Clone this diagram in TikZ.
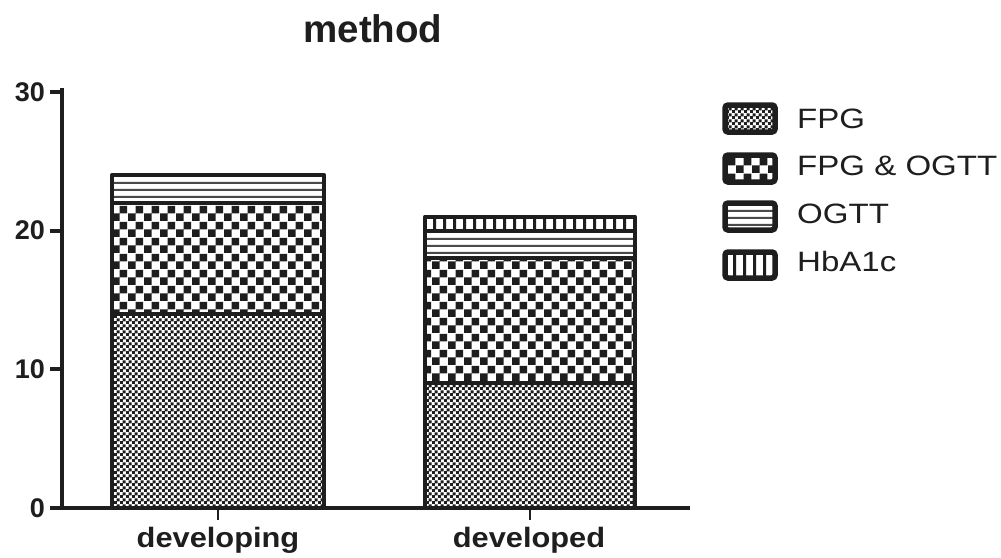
\documentclass[tikz,border=0pt]{standalone}
\usepackage{fontspec}
\setmainfont{Liberation Sans}
\usetikzlibrary{patterns}

% fine checkerboard (about 3pt cells, dark slightly dominant)
\pgfdeclarepatternformonly{finecheck}{\pgfpointorigin}{\pgfqpoint{6pt}{6pt}}{\pgfqpoint{6pt}{6pt}}{%
  \pgfpathrectangle{\pgfpointorigin}{\pgfqpoint{3.4pt}{3.4pt}}%
  \pgfpathrectangle{\pgfqpoint{3pt}{3pt}}{\pgfqpoint{3.4pt}{3.4pt}}%
  \pgfusepath{fill}}
% coarse checkerboard (8pt cells)
\pgfdeclarepatternformonly{coarsecheck}{\pgfpointorigin}{\pgfqpoint{16pt}{16pt}}{\pgfqpoint{16pt}{16pt}}{%
  \pgfpathrectangle{\pgfpointorigin}{\pgfqpoint{8pt}{8pt}}%
  \pgfpathrectangle{\pgfqpoint{8pt}{8pt}}{\pgfqpoint{8pt}{8pt}}%
  \pgfusepath{fill}}
% horizontal hatching, line kept inside the tile
\pgfdeclarepatternformonly{hhatch}{\pgfpointorigin}{\pgfqpoint{20pt}{7pt}}{\pgfqpoint{20pt}{7pt}}{%
  \pgfpathrectangle{\pgfqpoint{-1pt}{2.4pt}}{\pgfqpoint{22pt}{2.2pt}}%
  \pgfusepath{fill}}
% vertical hatching, line kept inside the tile
\pgfdeclarepatternformonly{vhatch}{\pgfpointorigin}{\pgfqpoint{10pt}{20pt}}{\pgfqpoint{10pt}{20pt}}{%
  \pgfpathrectangle{\pgfqpoint{3.5pt}{-1pt}}{\pgfqpoint{3.2pt}{22pt}}%
  \pgfusepath{fill}}

\definecolor{ink}{HTML}{1E1E1E}
\definecolor{hatchgray}{HTML}{4A4A4A}

\tikzset{
  axisline/.style={line width=4pt, draw=ink},
  seg/.style={line width=4pt, draw=ink},
  barframe/.style={line width=4.5pt, draw=ink, line join=round},
  fpg/.style={pattern=finecheck, pattern color=ink},
  fpgogtt/.style={pattern=coarsecheck, pattern color=ink},
  ogtt/.style={pattern=hhatch, pattern color=hatchgray},
  hba/.style={pattern=vhatch, pattern color=ink},
  keybox/.style={line width=5.5pt, draw=ink, rounded corners=3pt},
  ticklabel/.style={font=\bfseries\fontsize{27}{30}\selectfont, text=ink, anchor=east, inner sep=0pt},
  catlabel/.style={font=\bfseries\fontsize{28}{30}\selectfont, text=ink, anchor=base, inner sep=0pt},
  keylabel/.style={font=\fontsize{28}{30}\selectfont, text=ink, anchor=base west, inner sep=0pt},
}

\begin{document}
\begin{tikzpicture}[x=1pt, y=-1pt]
\useasboundingbox[fill=white] (0,0) rectangle (1001,557);

% title
\node[font=\bfseries\fontsize{38.5}{42}\selectfont, text=ink, anchor=base, inner sep=0pt] (title) at (373,42) {method};

% bar "developing": FPG 14, FPG & OGTT 8, OGTT 2
\fill[fpg]     (112,508)   rectangle (324,313.9);
\fill[fpgogtt] (112,313.9) rectangle (324,202.9);
\fill[ogtt]    (112,202.9) rectangle (324,175.2);
\draw[seg] (112,313.9) -- (324,313.9);
\draw[seg] (112,202.9) -- (324,202.9);
\draw[barframe] (112,508) rectangle (324,175.2);

% bar "developed": FPG 9, FPG & OGTT 9, OGTT 2, HbA1c 1
\fill[fpg]     (425,508)   rectangle (635,383.2);
\fill[fpgogtt] (425,383.2) rectangle (635,258.4);
\fill[ogtt]    (425,258.4) rectangle (635,230.7);
\fill[hba]     (425,230.7) rectangle (635,216.8);
\draw[seg] (425,383.2) -- (635,383.2);
\draw[seg] (425,258.4) -- (635,258.4);
\draw[seg] (425,230.7) -- (635,230.7);
\draw[barframe] (425,508) rectangle (635,216.8);

% axes
\coordinate (origin) at (62,508);
\coordinate (ytop) at (62,90);
\coordinate (xend) at (688,508);
\draw[axisline, line cap=rect] (ytop) -- (origin) -- (xend);

% y ticks and labels
\foreach \v/\yy in {0/508, 10/369.3, 20/230.7, 30/92} {
  \draw[axisline] (50,\yy) -- (62,\yy);
  \node[ticklabel] (ylab\v) at (45,\yy) {\v};
}

% category ticks and labels
\draw[line width=2.5pt, draw=ink] (218,508) -- (218,520);
\draw[line width=2.5pt, draw=ink] (530,508) -- (530,520);
\node[catlabel] (cat1) at (218,547) {\scalebox{1.1}[1]{developing}};
\node[catlabel] (cat2) at (529,547) {\scalebox{1.1}[1]{developed}};

% legend
\filldraw[keybox, fpg]     (725,105) rectangle (775,132);
\filldraw[keybox, fpgogtt] (725,155) rectangle (775,182);
\filldraw[keybox, ogtt]    (725,203) rectangle (775,230);
\filldraw[keybox, hba]     (725,252) rectangle (775,278);
\node[keylabel] (k1) at (797,128) {\scalebox{1.18}[1]{FPG}};
\node[keylabel] (k2) at (797,175) {\scalebox{1.18}[1]{FPG \& OGTT}};
\node[keylabel] (k3) at (797,223) {\scalebox{1.18}[1]{OGTT}};
\node[keylabel] (k4) at (797,271) {\scalebox{1.18}[1]{HbA1c}};
\end{tikzpicture}
\end{document}
